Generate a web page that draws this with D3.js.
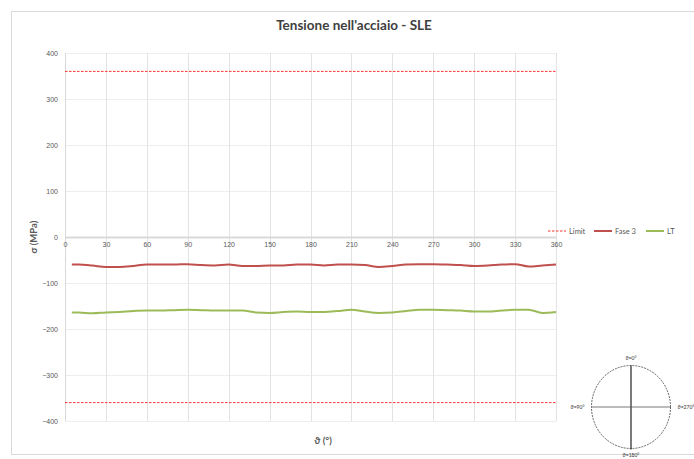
<!DOCTYPE html>
<html>
<head>
<meta charset="utf-8">
<script src="https://cdn.jsdelivr.net/npm/d3@7"></script>
<style>
  body { margin: 0; background: #fff; }
</style>
</head>
<body>
<div id="chart"></div>
<script>
// Chart values
const thetaValues = [5, 10, 20, 30, 40, 50, 60, 70, 80, 90, 100, 110, 120, 130, 140, 150, 160, 170, 180,
  190, 200, 210, 220, 230, 240, 250, 260, 270, 280, 290, 300, 310, 320, 330, 340, 350, 360];
const fase3Values = [-60, -60, -62, -65, -65, -63, -60, -60, -60, -59, -61, -62, -60, -63, -63, -62, -62, -60, -60,
  -62, -60, -60, -61, -65, -63, -60, -59, -59, -60, -61, -63, -62, -60, -59, -64, -62, -60];
const ltValues = [-164, -164, -166, -164, -163, -161, -160, -160, -159, -158, -159, -160, -160, -160, -164, -165, -163, -162, -163,
  -163, -161, -158, -162, -165, -164, -161, -158, -158, -159, -160, -162, -162, -160, -158, -158, -165, -163];
const limitValues = [360, -360];
const xTicks = [0, 30, 60, 90, 120, 150, 180, 210, 240, 270, 300, 330, 360];
const yTicks = [-400, -300, -200, -100, 0, 100, 200, 300, 400];
const legendLabels = ["Limit", "Fase 3", "LT"];
const circleLabels = ["ϑ=0°", "ϑ=90°", "ϑ=180°", "ϑ=270°"];

const attrs = {
  svgWidth: 694,
  svgHeight: 459,
  marginLeft: 65,
  marginTop: 53,
  plotWidth: 491,
  plotHeight: 368,
  textFill: "#595959",
  defaultFont: "Lato, 'Open Sans', sans-serif",
  limitColor: "#ff3030",
  fase3Color: "#c0504d",
  ltColor: "#9bbb59"
};

const svg = d3.select("#chart")
  .append("svg")
  .attr("width", attrs.svgWidth)
  .attr("height", attrs.svgHeight)
  .attr("font-family", attrs.defaultFont);

// outer chart frame
svg.append("rect")
  .attr("x", 11.5).attr("y", 11.5)
  .attr("width", 700).attr("height", 443)
  .attr("fill", "none")
  .attr("stroke", "#d9d9d9");

svg.append("text")
  .attr("x", 354).attr("y", 30)
  .attr("text-anchor", "middle")
  .attr("font-size", 13.5)
  .attr("font-weight", "bold")
  .attr("fill", "#404040")
  .text("Tensione nell'acciaio - SLE");

const x = d3.scaleLinear().domain([0, 360]).range([0, attrs.plotWidth]);
const y = d3.scaleLinear().domain([-400, 400]).range([attrs.plotHeight, 0]);

const chart = svg.append("g")
  .attr("transform", "translate(" + attrs.marginLeft + "," + attrs.marginTop + ")");

// gridlines
chart.append("g")
  .selectAll("line")
  .data(yTicks)
  .join("line")
  .attr("x1", 0).attr("x2", attrs.plotWidth)
  .attr("y1", d => Math.round(y(d)) + 0.5).attr("y2", d => Math.round(y(d)) + 0.5)
  .attr("stroke", "#eeeeee");

chart.append("g")
  .selectAll("line")
  .data(xTicks.slice(1))
  .join("line")
  .attr("x1", d => Math.round(x(d)) + 0.5).attr("x2", d => Math.round(x(d)) + 0.5)
  .attr("y1", 0).attr("y2", attrs.plotHeight)
  .attr("stroke", "#e3e3e3");

// left axis line
chart.append("line")
  .attr("x1", 0.5).attr("x2", 0.5)
  .attr("y1", 0).attr("y2", attrs.plotHeight)
  .attr("stroke", "#d9d9d9");

// x axis crossing at zero
const xAxis = chart.append("g")
  .attr("transform", "translate(0," + y(0) + ")")
  .call(d3.axisBottom(x).tickValues(xTicks).tickSize(0).tickPadding(5));
xAxis.select(".domain").attr("stroke", "#d9d9d9").attr("stroke-width", 2);
xAxis.selectAll("text").attr("fill", attrs.textFill).attr("font-size", 7);

const yAxis = chart.append("g")
  .call(d3.axisLeft(y).tickValues(yTicks).tickSize(0).tickPadding(7));
yAxis.select(".domain").remove();
yAxis.selectAll("text").attr("fill", attrs.textFill).attr("font-size", 7);

// limit lines
chart.append("g")
  .selectAll("line")
  .data(limitValues)
  .join("line")
  .attr("x1", x(0)).attr("x2", x(360))
  .attr("y1", d => y(d)).attr("y2", d => y(d))
  .attr("stroke", attrs.limitColor)
  .attr("stroke-width", 1)
  .attr("stroke-dasharray", "2.5,1.5");

const line = d3.line()
  .x(d => x(d[0]))
  .y(d => y(d[1]))
  .curve(d3.curveMonotoneX);

const series = [
  { values: fase3Values, color: attrs.fase3Color },
  { values: ltValues, color: attrs.ltColor }
];

chart.append("g")
  .selectAll("path")
  .data(series)
  .join("path")
  .attr("fill", "none")
  .attr("stroke", d => d.color)
  .attr("stroke-width", 2)
  .attr("d", d => line(thetaValues.map((t, i) => [t, d.values[i]])));

// axis titles
svg.append("text")
  .attr("transform", "translate(37," + (attrs.marginTop + y(0)) + ") rotate(-90)")
  .attr("text-anchor", "middle")
  .attr("font-size", 9.5)
  .attr("font-weight", "bold")
  .attr("fill", attrs.textFill)
  .text("σ (MPa)");

svg.append("text")
  .attr("x", 323).attr("y", 444)
  .attr("text-anchor", "middle")
  .attr("font-size", 9.5)
  .attr("font-weight", "bold")
  .attr("fill", attrs.textFill)
  .text("ϑ (°)");

// legend
const legendData = [
  { label: legendLabels[0], color: attrs.limitColor, dash: "2.5,1.5", width: 1, x: 548 },
  { label: legendLabels[1], color: attrs.fase3Color, dash: null, width: 2, x: 594 },
  { label: legendLabels[2], color: attrs.ltColor, dash: null, width: 2, x: 646 }
];
const legend = svg.append("g").attr("transform", "translate(0,231)");
const items = legend.selectAll("g").data(legendData).join("g")
  .attr("transform", d => "translate(" + d.x + ",0)");
items.append("line")
  .attr("x1", 0).attr("x2", 18)
  .attr("stroke", d => d.color)
  .attr("stroke-width", d => d.width)
  .attr("stroke-dasharray", d => d.dash);
items.append("text")
  .attr("x", 21).attr("y", 2.5)
  .attr("font-size", 7.5)
  .attr("fill", attrs.textFill)
  .text(d => d.label);

// orientation sketch
const cx = 631, cy = 407, rx = 39.5, ry = 41.5;
const sketch = svg.append("g");
sketch.append("ellipse")
  .attr("cx", cx).attr("cy", cy).attr("rx", rx).attr("ry", ry)
  .attr("fill", "none")
  .attr("stroke", "#404040")
  .attr("stroke-width", 0.8)
  .attr("stroke-dasharray", "2,1");
sketch.append("line")
  .attr("x1", cx).attr("x2", cx).attr("y1", cy - ry).attr("y2", cy + ry + 1)
  .attr("stroke", "#222").attr("stroke-width", 1.2);
sketch.append("line")
  .attr("x1", cx - rx).attr("x2", cx + rx).attr("y1", cy).attr("y2", cy)
  .attr("stroke", "#555").attr("stroke-width", 0.8);
const labelPos = [
  { x: cx, y: cy - ry - 6, anchor: "middle" },
  { x: cx - rx - 7, y: cy + 2, anchor: "end" },
  { x: cx, y: cy + ry + 8, anchor: "middle" },
  { x: cx + rx + 7, y: cy + 2, anchor: "start" }
];
sketch.selectAll("text")
  .data(circleLabels)
  .join("text")
  .attr("x", (d, i) => labelPos[i].x)
  .attr("y", (d, i) => labelPos[i].y)
  .attr("text-anchor", (d, i) => labelPos[i].anchor)
  .attr("font-size", 5)
  .attr("fill", "#333")
  .text(d => d);
</script>
</body>
</html>
